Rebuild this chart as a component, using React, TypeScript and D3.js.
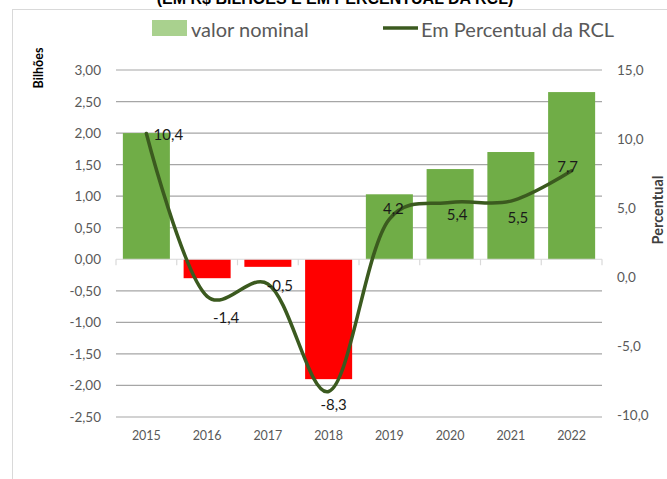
import React from "react";
import * as d3 from "d3";

const years = ["2015", "2016", "2017", "2018", "2019", "2020", "2021", "2022"];
const nominal = [2.0, -0.3, -0.12, -1.9, 1.03, 1.43, 1.7, 2.65];
const percentValues = [10.4, -1.4, -0.5, -8.3, 4.2, 5.4, 5.5, 7.7];
const leftTicks = [3, 2.5, 2, 1.5, 1, 0.5, 0, -0.5, -1, -1.5, -2, -2.5];
const rightTicks = [15, 10, 5, 0, -5, -10];

// label placement offsets (dx, dy) relative to the line point
const labelOffsets: [number, number][] = [
  [22, 1], [19, 21], [12, 1], [5, 12], [4, -11], [7, 12], [7, 16], [-4, -5],
];

const FONT = "Lato, 'Open Sans', sans-serif";

export default function App() {
  const x = d3.scaleBand<string>().domain(years).range([116, 602]).paddingInner(0.226).paddingOuter(0.113);
  const yL = d3.scaleLinear().domain([-2.5, 3]).range([417, 70]);
  const yR = d3.scaleLinear().domain([-10, 15]).range([415, 70]);
  const fmt2 = (v: number) => d3.format(".2f")(v).replace(".", ",").replace("−", "-");
  const fmt1 = (v: number) => d3.format(".1f")(v).replace(".", ",").replace("−", "-");
  const cx = (d: string) => (x(d) as number) + x.bandwidth() / 2;
  const line = d3
    .line<number>()
    .x((_, i) => cx(years[i]))
    .y((v) => yR(v))
    .curve(d3.curveCatmullRom.alpha(0.25));
  const left = 116;
  const right = 602;
  const boundaries = d3.range(years.length + 1).map((i) => left + i * ((right - left) / years.length));

  return (
    <svg width={667} height={479} style={{ position: "absolute", left: 0, top: 0, background: "#fff" }} fontFamily={FONT}>
      <rect x={0} y={0} width={667} height={479} fill="#fff" />
      <text x={335} y={4} textAnchor="middle" fontFamily="'Liberation Sans', Arial, sans-serif" fontWeight="bold" fontSize={16} fill="#000">
        (EM R$ BILHÕES E EM PERCENTUAL DA RCL)
      </text>
      <rect x={12.5} y={9.5} width={700} height={500} fill="none" stroke="#d9d9d9" strokeWidth={1} />

      {/* legend */}
      <rect x={152} y={20} width={35} height={16} fill="#a9d18e" />
      <text x={191} y={28.5} dominantBaseline="central" fontSize={20} fill="#595959">valor nominal</text>
      <line x1={383} x2={418} y1={28} y2={28} stroke="#3b5a1f" strokeWidth={3.5} />
      <text x={421} y={28.5} dominantBaseline="central" fontSize={20} fill="#595959">Em Percentual da RCL</text>

      {/* gridlines */}
      {leftTicks.filter((t) => t !== 0).map((t) => (
        <line key={t} x1={left} x2={right} y1={yL(t)} y2={yL(t)} stroke="#a6a6a6" strokeWidth={1.2} />
      ))}

      {/* left axis labels */}
      {leftTicks.map((t) => (
        <text key={t} x={101} y={yL(t)} textAnchor="end" dominantBaseline="central" fontSize={13.5} fill="#595959">
          {fmt2(t)}
        </text>
      ))}
      {/* right axis labels */}
      {rightTicks.map((t) => (
        <text key={t} x={617} y={yR(t)} textAnchor="start" dominantBaseline="central" fontSize={13.5} fill="#595959">
          {fmt1(t)}
        </text>
      ))}

      {/* bars */}
      {years.map((yr, i) => {
        const v = nominal[i];
        const y0 = yL(0);
        const y1 = yL(v);
        return (
          <rect
            key={yr}
            x={x(yr)}
            y={Math.min(y0, y1)}
            width={x.bandwidth()}
            height={Math.abs(y1 - y0)}
            fill={v >= 0 ? "#70ad47" : "#ff0000"}
          />
        );
      })}

      {/* zero axis */}
      <line x1={left} x2={right} y1={yL(0)} y2={yL(0)} stroke="#d9d9d9" strokeWidth={1.2} />
      {boundaries.map((b, i) => (
        <line key={i} x1={b} x2={b} y1={yL(0)} y2={yL(0) + 6} stroke="#d9d9d9" strokeWidth={1.2} />
      ))}

      {/* year labels */}
      {years.map((yr) => (
        <text key={yr} x={cx(yr)} y={435} textAnchor="middle" dominantBaseline="central" fontSize={12.5} fill="#595959">
          {yr}
        </text>
      ))}

      {/* line */}
      <path d={line(percentValues) as string} fill="none" stroke="#3b5a1f" strokeWidth={3.5} strokeLinecap="round" />

      {/* data labels */}
      {years.map((yr, i) => (
        <text
          key={yr}
          x={cx(yr) + labelOffsets[i][0]}
          y={yR(percentValues[i]) + labelOffsets[i][1]}
          textAnchor="middle"
          dominantBaseline="central"
          fontSize={15}
          fill="#1a1a1a"
        >
          {fmt1(percentValues[i])}
        </text>
      ))}

      {/* axis titles */}
      <text transform="translate(38,68) rotate(-90)" textAnchor="middle" dominantBaseline="central" fontWeight="bold" fontSize={12.5} fill="#000">
        Bilhões
      </text>
      <text transform="translate(657,210) rotate(-90)" textAnchor="middle" dominantBaseline="central" fontWeight="bold" fontSize={14.5} fill="#404040">
        Percentual
      </text>
    </svg>
  );
}
